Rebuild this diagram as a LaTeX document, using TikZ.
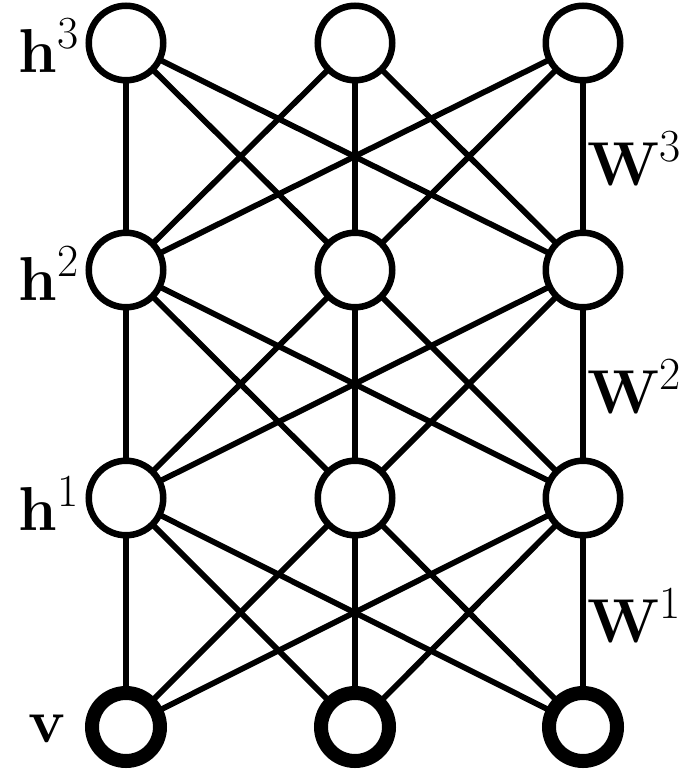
\documentclass[tikz,border=0pt]{standalone}
\usepackage{fontspec}
\newcommand{\suplab}[2]{\textbf{#1}\raisebox{24pt}{\fontsize{46}{46}\selectfont #2}}
\begin{document}
\begin{tikzpicture}[x=1pt,y=-1pt,
  unit/.style={circle,draw=black,line width=6.5pt,minimum size=74.5pt,inner sep=0pt,fill=white},
  visible/.style={circle,draw=black,line width=14pt,minimum size=68pt,inner sep=0pt,fill=white},
  conn/.style={line width=5.7pt},
  lab/.style={inner sep=0pt,font=\fontsize{62}{70}\selectfont}]
\useasboundingbox (0,0) rectangle (682,769);
% node positions (connectors drawn first, nodes on top)
\foreach \c/\x in {a/126,b/355,c/583}{
  \coordinate (p3\c) at (\x,43);
  \coordinate (p2\c) at (\x,270);
  \coordinate (p1\c) at (\x,498);
  \coordinate (p0\c) at (\x,727);
}
\foreach \i in {a,b,c}{
  \foreach \j in {a,b,c}{
    \draw[conn] (p3\i) -- (p2\j);
    \draw[conn] (p2\i) -- (p1\j);
    \draw[conn] (p1\i) -- (p0\j);
  }
}
\foreach \c in {a,b,c}{
  \node[unit] (h3\c) at (p3\c) {};
  \node[unit] (h2\c) at (p2\c) {};
  \node[unit] (h1\c) at (p1\c) {};
  \node[visible] (v\c) at (p0\c) {};
}
% labels
\node[lab,anchor=base east] (lh3) at (79,72) {\suplab{h}{3}};
\node[lab,anchor=base east] (lh2) at (79,300) {\suplab{h}{2}};
\node[lab,anchor=base east] (lh1) at (79,530) {\suplab{h}{1}};
\node[lab,anchor=base east] (lv) at (66,742) {\textbf{v}};
\node[lab,anchor=base west] (lw3) at (587,185) {\suplab{W}{3}};
\node[lab,anchor=base west] (lw2) at (587,413) {\suplab{W}{2}};
\node[lab,anchor=base west] (lw1) at (587,642) {\suplab{W}{1}};
\end{tikzpicture}
\end{document}
